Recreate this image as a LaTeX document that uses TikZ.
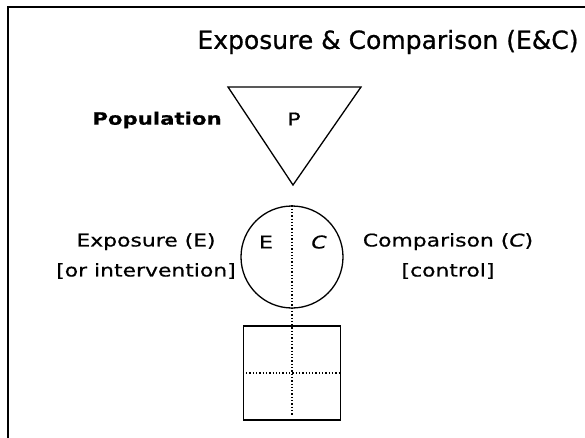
\documentclass[tikz,border=0pt]{standalone}
\usepackage{fontspec}
\setmainfont{DejaVu Sans}
\newfontfamily\comic{DejaVu Sans}[FakeStretch=1.25,FakeBold=0.6]
\newfontfamily\comictitle{DejaVu Sans}[FakeBold=0.8]
\usepackage{tikz}

\begin{document}
\begin{tikzpicture}[x=1pt,y=-1pt]
\tikzset{
  lbl/.style={font=\comic\fontsize{17.5}{30}\selectfont,align=center,inner sep=0pt},
  dots/.style={line width=1.3pt,dash pattern=on 1.3pt off 2pt}
}
\clip (0,0) rectangle (585,438);
\useasboundingbox (0,0) rectangle (585,438);

% frame
\draw[line width=2pt] (8,460) -- (8,7) -- (600,7);

\node[inner sep=0pt,font=\comictitle\fontsize{25}{30}\selectfont] (title) at (388,42) {Exposure \& Comparison (E\&C)};

% population triangle
\coordinate (tl) at (228,87);
\coordinate (tr) at (361,87);
\coordinate (apex) at (293,185);
\draw[line width=1.3pt,line join=miter] (tl) -- (tr) -- (apex) -- cycle;
\node[lbl] (P) at (294,119) {P};
\node[lbl,font=\comic\bfseries\fontsize{17}{20}\selectfont] (pop) at (157,120) {Population};

% exposure / comparison circle
\node[circle,draw,line width=1.3pt,minimum size=102pt,inner sep=0pt] (grp) at (292,257) {};
\node[lbl] (E) at (266,242) {E};
\node[lbl] (C) at (319,242) {\itshape C};
\node[lbl] (expo) at (146,256) {Exposure (E)\\{[}or intervention{]}};
\node[lbl] (comp) at (448,256) {Comparison ({\itshape C})\\{[}control{]}};

% outcome table
\node[rectangle,draw,line width=1.3pt,minimum width=97pt,minimum height=94pt,inner sep=0pt] (tab) at (292,373) {};
\coordinate (bot) at (292,416);
\draw[dots] (grp.north) -- (bot);
\draw[dots] (tab.west) -- (tab.east);
\end{tikzpicture}
\end{document}
